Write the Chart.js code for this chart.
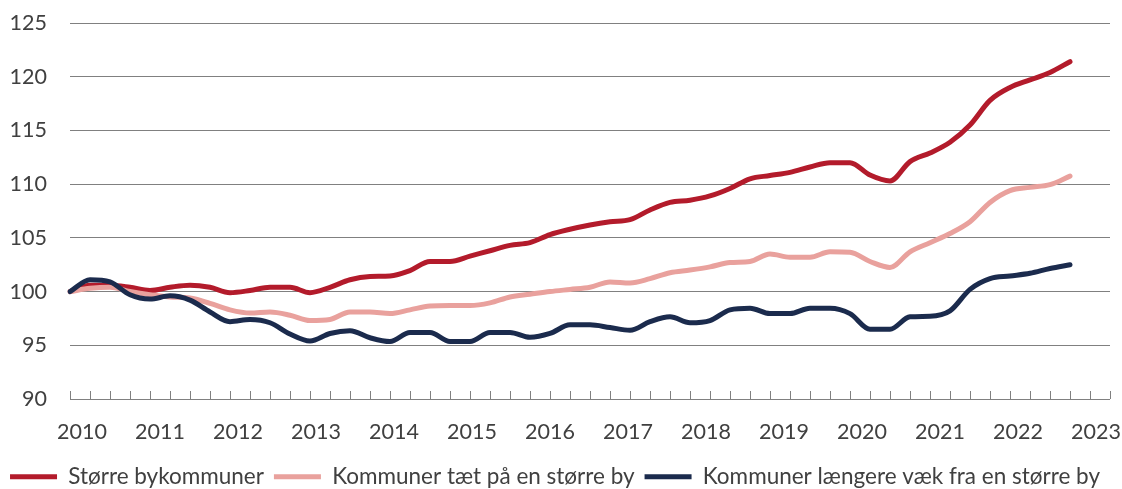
<!DOCTYPE html>
<html>
<head>
<meta charset="utf-8">
<script src="https://cdn.jsdelivr.net/npm/chart.js@4.4.1/dist/chart.umd.min.js"></script>
<style>
  html, body { margin: 0; padding: 0; background: #ffffff; }
  #wrap { width: 1122px; height: 489px; position: relative; }
</style>
</head>
<body>
<div id="wrap"><canvas id="c"></canvas></div>
<script>
const quarters = [
  "2010K1","2010K2","2010K3","2010K4","2011K1","2011K2","2011K3","2011K4",
  "2012K1","2012K2","2012K3","2012K4","2013K1","2013K2","2013K3","2013K4",
  "2014K1","2014K2","2014K3","2014K4","2015K1","2015K2","2015K3","2015K4",
  "2016K1","2016K2","2016K3","2016K4","2017K1","2017K2","2017K3","2017K4",
  "2018K1","2018K2","2018K3","2018K4","2019K1","2019K2","2019K3","2019K4",
  "2020K1","2020K2","2020K3","2020K4","2021K1","2021K2","2021K3","2021K4",
  "2022K1","2022K2","2022K3","2022K4","2023K1"
];
const yearLabels = ["2010","2011","2012","2013","2014","2015","2016","2017","2018","2019","2020","2021","2022","2023"];

const storreBy = [
  100.0,100.6,100.6,100.4,100.1,100.4,100.6,100.4,99.9,100.1,100.4,100.4,99.9,100.4,101.1,101.4,
  101.45,101.95,102.8,102.8,103.3,103.8,104.3,104.55,105.3,105.8,106.2,106.5,106.7,107.6,108.3,108.5,
  108.9,109.6,110.5,110.8,111.1,111.6,112.0,112.0,110.85,110.3,112.1,112.9,113.9,115.5,117.8,119.0,
  119.7,120.4,121.4
];
const taetPaa = [
  100.0,100.3,100.4,100.0,99.7,99.5,99.4,98.9,98.3,98.0,98.1,97.8,97.3,97.4,98.1,98.1,
  97.95,98.3,98.65,98.7,98.7,98.95,99.5,99.75,100.0,100.2,100.4,100.9,100.8,101.2,101.75,102.0,
  102.3,102.7,102.8,103.5,103.2,103.2,103.7,103.65,102.8,102.25,103.7,104.55,105.4,106.5,108.3,109.4,
  109.7,109.95,110.75
];
const laengereVaek = [
  100.0,101.1,100.9,99.7,99.3,99.6,99.2,98.1,97.2,97.4,97.1,96.05,95.4,96.1,96.35,95.7,
  95.35,96.2,96.2,95.35,95.35,96.2,96.2,95.75,96.1,96.9,96.9,96.65,96.4,97.2,97.65,97.1,
  97.3,98.3,98.45,97.95,97.95,98.45,98.45,97.95,96.5,96.5,97.65,97.7,98.2,100.2,101.2,101.45,
  101.7,102.15,102.5
];
const seriesNames = ["Større bykommuner","Kommuner tæt på en større by","Kommuner længere væk fra en større by"];
const seriesColors = ["#B31B2B","#E9A19D","#1B2B4D"];

const FONT = "Lato, 'Noto Sans', sans-serif";
const TEXT = "#404040";
const GRID = "#808080";

const insideTicks = {
  id: 'insideTicks',
  beforeDatasetsDraw(chart) {
    const x = chart.scales.x, ca = chart.chartArea, ctx = chart.ctx;
    ctx.save();
    ctx.strokeStyle = GRID;
    ctx.lineWidth = 1;
    ctx.beginPath();
    for (let i = 0; i < quarters.length; i++) {
      const px = Math.round(x.getPixelForValue(i)) + 0.5;
      ctx.moveTo(px, ca.bottom);
      ctx.lineTo(px, ca.bottom - 8);
    }
    ctx.stroke();
    ctx.restore();
  }
};

const data = [storreBy, taetPaa, laengereVaek];
new Chart(document.getElementById('c'), {
  type: 'line',
  data: {
    labels: quarters,
    datasets: data.map((d, i) => ({
      label: seriesNames[i],
      data: d,
      xAxisID: 'x',
      borderColor: seriesColors[i],
      backgroundColor: seriesColors[i],
      borderWidth: 5,
      pointRadius: 0,
      fill: false,
      cubicInterpolationMode: 'monotone',
      borderCapStyle: 'round',
      borderJoinStyle: 'round'
    })).reverse()
  },
  options: {
    responsive: true,
    maintainAspectRatio: false,
    animation: false,
    layout: { padding: { left: 0, right: 12, top: 23, bottom: -9 } },
    plugins: {
      tooltip: { enabled: false },
      legend: {
        position: 'bottom',
        reverse: true,
        labels: {
          font: { family: FONT, size: 22.5 },
          color: TEXT,
          boxWidth: 47,
          boxHeight: 5,
          padding: 10,
          generateLabels(chart) {
            const items = Chart.defaults.plugins.legend.labels.generateLabels(chart);
            items.forEach(it => { it.lineWidth = 0; });
            return items;
          }
        }
      }
    },
    scales: {
      x: {
        type: 'category',
        offset: false,
        grid: { display: false, drawTicks: false },
        border: { display: false },
        ticks: { display: false },
        afterFit(s) { s.height = 0; s.paddingLeft = 0; s.paddingRight = 0; }
      },
      years: {
        type: 'linear',
        position: 'bottom',
        min: -0.154,
        max: 13.18,
        grid: { display: false, drawTicks: false },
        border: { display: false },
        afterFit(s) { s.height = 56.5; s.paddingLeft = 0; s.paddingRight = 0; },
        ticks: {
          stepSize: 1,
          includeBounds: false,
          autoSkip: false,
          maxRotation: 0,
          minRotation: 0,
          padding: 20,
          font: { family: FONT, size: 21.5 },
          color: TEXT,
          callback(v) { return Number.isInteger(v) ? yearLabels[v] : ''; }
        }
      },
      y: {
        min: 90, max: 125,
        grid: { color: GRID, lineWidth: 1, drawTicks: false },
        border: { display: false },
        afterFit(s) { s.width = 70; s.paddingTop = 0; s.paddingBottom = 0; },
        ticks: {
          stepSize: 5,
          padding: 23,
          font: { family: FONT, size: 21.5 },
          color: TEXT
        }
      }
    }
  },
  plugins: [insideTicks]
});
</script>
</body>
</html>
